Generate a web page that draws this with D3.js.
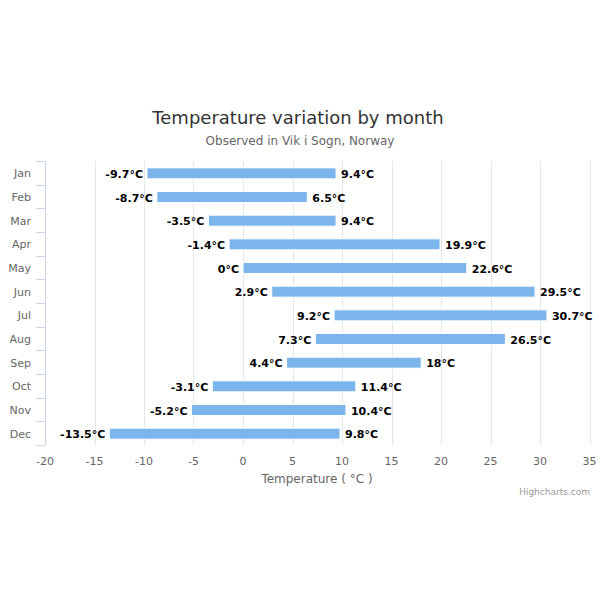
<!DOCTYPE html>
<html><head><meta charset="utf-8">
<script src="https://cdn.jsdelivr.net/npm/d3@7"></script>
<style>body{margin:0;background:#fff}svg{font-family:"DejaVu Sans",sans-serif}</style>
</head><body><svg id="c" width="600" height="600"></svg>
<script>
const months = ["Jan","Feb","Mar","Apr","May","Jun","Jul","Aug","Sep","Oct","Nov","Dec"];
const lows = [-9.7,-8.7,-3.5,-1.4,0,2.9,9.2,7.3,4.4,-3.1,-5.2,-13.5];
const highs = [9.4,6.5,9.4,19.9,22.6,29.5,30.7,26.5,18,11.4,10.4,9.8];
const xTicks = [-20,-15,-10,-5,0,5,10,15,20,25,30,35];

const svg = d3.select("#c");
const L=45, R=589.5, T=161, B=445;
const x = d3.scaleLinear().domain([-20,35]).range([L,R]);
const y = d3.scaleBand().domain(months).range([T,B]);

svg.append("text").attr("x",298).attr("y",124).attr("text-anchor","middle")
  .attr("font-size",18).attr("fill","#333333").text("Temperature variation by month");
svg.append("text").attr("x",300).attr("y",145).attr("text-anchor","middle")
  .attr("font-size",12).attr("fill","#666666").text("Observed in Vik i Sogn, Norway");

// grid
svg.append("g").selectAll("line").data(xTicks).join("line")
  .attr("x1",d=>Math.round(x(d))+0.5).attr("x2",d=>Math.round(x(d))+0.5)
  .attr("y1",T).attr("y2",B).attr("stroke","#e6e6e6");

// bottom tick labels
svg.append("g").selectAll("text").data(xTicks).join("text")
  .attr("x",d=>x(d)).attr("y",465).attr("text-anchor","middle")
  .attr("font-size",11).attr("fill","#666666").text(d=>d);
svg.append("text").attr("x",317).attr("y",483).attr("text-anchor","middle")
  .attr("font-size",12).attr("fill","#666666").text("Temperature ( °C )");

// left axis
const g = svg.append("g");
g.append("line").attr("x1",L+0.5).attr("x2",L+0.5).attr("y1",T).attr("y2",B).attr("stroke","#ccd6eb");
const bounds = months.map(m=>y(m)).concat([B]);
g.selectAll("line.t").data(bounds).join("line").attr("class","t")
  .attr("x1",36).attr("x2",L).attr("y1",d=>Math.round(d)+0.5).attr("y2",d=>Math.round(d)+0.5).attr("stroke","#ccd6eb");
g.selectAll("text").data(months).join("text")
  .attr("x",31).attr("y",d=>y(d)+y.bandwidth()/2+4.5).attr("text-anchor","end")
  .attr("font-size",11).attr("fill","#666666").text(d=>d);

// bars
const data = months.map((m,i)=>({m,lo:lows[i],hi:highs[i]}));
const bh = 11;
svg.append("g").selectAll("rect").data(data).join("rect")
  .attr("x",d=>x(d.lo)).attr("width",d=>x(d.hi)-x(d.lo))
  .attr("y",d=>y(d.m)+y.bandwidth()/2-bh/2+0.5).attr("height",bh)
  .attr("fill","#7cb5ec").attr("stroke","#ffffff").attr("stroke-width",1);

const fmt = v=>v+"°C";
const lab = svg.append("g").attr("font-size",11).attr("font-weight","bold").attr("fill","#000");
lab.selectAll("text.lo").data(data).join("text").attr("class","lo")
  .attr("x",d=>x(d.lo)-4).attr("y",d=>y(d.m)+y.bandwidth()/2+5).attr("text-anchor","end").text(d=>fmt(d.lo));
lab.selectAll("text.hi").data(data).join("text").attr("class","hi")
  .attr("x",d=>x(d.hi)+5).attr("y",d=>y(d.m)+y.bandwidth()/2+5).attr("text-anchor","start").text(d=>fmt(d.hi));

svg.append("text").attr("x",590).attr("y",495).attr("text-anchor","end")
  .attr("font-size",9).attr("fill","#999999").text("Highcharts.com");
</script></body></html>
